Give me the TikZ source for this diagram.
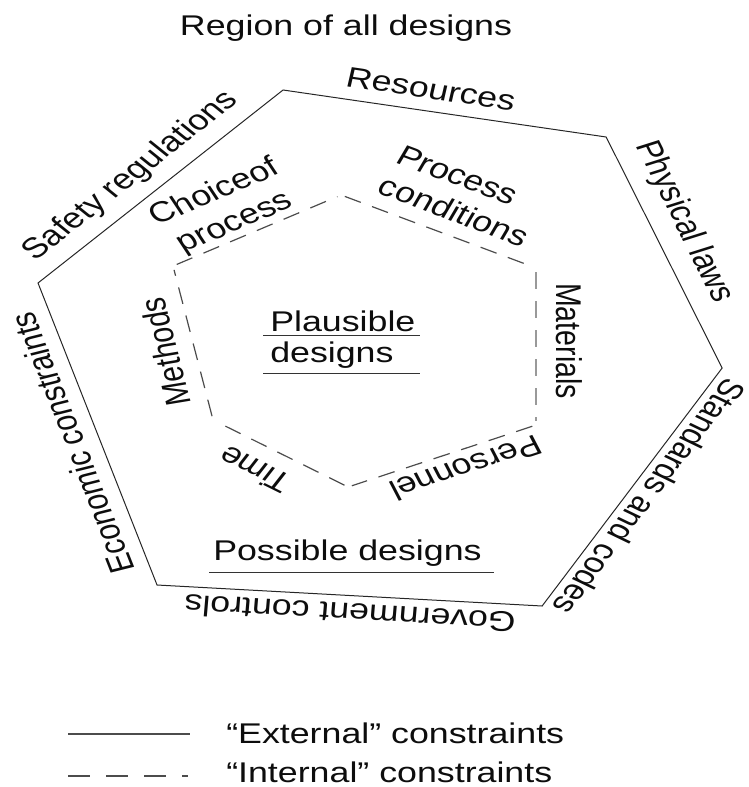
\documentclass[tikz,border=0pt]{standalone}
\usepackage{fontspec}
\setmainfont{Liberation Sans}
\begin{document}
\begin{tikzpicture}[x=0.796813pt,y=-1pt]
\begin{scope}[xscale=1.255]
\useasboundingbox (0,0) rectangle (748,787);
\tikzset{
  lbl/.style={font=\fontsize{28.5}{34}\selectfont, text=black!95, inner sep=0pt, transform shape},
  outerline/.style={draw=black!85, line width=1pt, line join=miter},
  innerline/.style={draw=black!70, line width=1.2pt, dash pattern=on 17pt off 12pt, shorten <=4pt, shorten >=4pt},
  innergray/.style={innerline, draw=black!40, line width=1.8pt},
  underl/.style={draw=black!80, line width=1pt},
}
% outer hexagon
\coordinate (oT)  at (283,90);
\coordinate (oTR) at (606,137);
\coordinate (oR)  at (722,368);
\coordinate (oBR) at (542,606);
\coordinate (oBL) at (157,585);
\coordinate (oL)  at (38,283);
\draw[outerline] (oT) -- (oTR) -- (oR) -- (oBR) -- (oBL) -- (oL) -- cycle;
% inner hexagon
\coordinate (iT)  at (341,195);
\coordinate (iRT) at (536,268);
\coordinate (iRB) at (536,425);
\coordinate (iB)  at (348,487);
\coordinate (iLB) at (213,420);
\coordinate (iLT) at (173,266);
\draw[innerline] (iLT) -- (iT);
\draw[innerline] (iT) -- (iRT);
\draw[innergray] (iRT) -- (iRB);
\draw[innerline] (iRB) -- (iB);
\draw[innerline] (iB) -- (iLB);
\draw[innerline] (iLB) -- (iLT);
% title
\node[lbl, anchor=base] (title) at (346,35) {Region of all designs};
% outer labels
\node[lbl, rotate=-10.35] (res) at (431,89) {Resources};
\node[lbl, rotate=-68.4] (phys) at (684,222) {Physical laws};
\node[lbl, rotate=-121.2] (std) at (650,497) {Standards and codes};
\node[lbl, rotate=176.1] (gov) at (350,614) {Government controls};
\node[lbl, rotate=107.4] (econ) at (72,443) {Economic constraints};
\node[lbl, rotate=44.7] (safe) at (131,176) {Safety regulations};
% inner labels
\node[lbl, rotate=27.9, align=center] (choice) at (225,208) {Choiceof\\process};
\node[lbl, rotate=-25.2, align=left] (proc) at (463,196) {Process\\conditions};
\node[lbl, rotate=-90] (mat) at (569,341) {Materials};
\node[lbl, rotate=-157.5] (pers) at (466,468) {Personnel};
\node[lbl, rotate=148.1] (time) at (255,470) {Time};
\node[lbl, rotate=101.7] (meth) at (165,352) {Methods};
% centre texts
\node[lbl, anchor=base west] (plaus) at (270,331) {Plausible};
\node[lbl, anchor=base west] (pdes) at (270,362) {designs};
\draw[underl] (263,335) -- (420,335);
\draw[underl] (263,373) -- (420,373);
\node[lbl, anchor=base west] (poss) at (213,560) {Possible designs};
\draw[underl] (209,572) -- (494,572);
% legend
\coordinate (l1a) at (68,734);
\coordinate (l1b) at (190,734);
\coordinate (l2a) at (68,776);
\coordinate (l2b) at (188,776);
\draw[draw=black!70, line width=1.2pt] (l1a) -- (l1b);
\draw[draw=black!70, line width=1.2pt, dash pattern=on 22pt off 16pt] (l2a) -- (l2b);
\node[lbl, anchor=base west] (ext) at (226,743) {“External” constraints};
\node[lbl, anchor=base west] (int) at (226,782) {“Internal” constraints};
\end{scope}
\end{tikzpicture}
\end{document}
